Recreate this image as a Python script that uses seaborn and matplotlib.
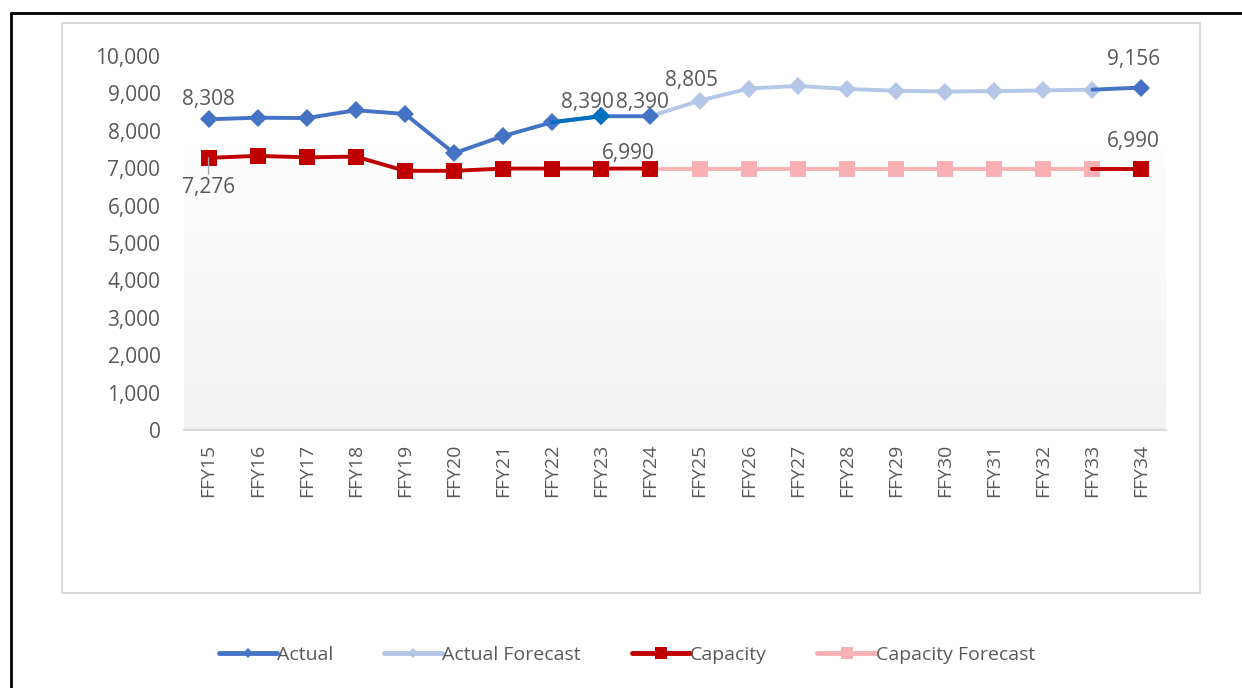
import numpy as np
import pandas as pd
import matplotlib
matplotlib.use("Agg")
import matplotlib.pyplot as plt
import seaborn as sns
from matplotlib.lines import Line2D
from matplotlib.patches import Rectangle

# Data
years = [f"FFY{y}" for y in range(15, 35)]
actual = [8308, 8350, 8340, 8550, 8450, 7400, 7860, 8230, 8390, 8390]
actual_tail = [9100, 9156]            # FFY33-FFY34
actual_forecast = [8390, 8805, 9130, 9200, 9120, 9070, 9050, 9060, 9080, 9100]  # FFY24-FFY33
capacity = [7276, 7330, 7290, 7310, 6930, 6930, 6990, 6990, 6990, 6990]
capacity_tail = [6990, 6990]          # FFY33-FFY34
capacity_forecast = [6990] * 10       # FFY24-FFY33
highlight = [8230, 8390]              # FFY22-FFY23

BLUE = "#4472C4"
BLUE_LT = "#B4C7E7"
BLUE_HL = "#0070C0"
RED = "#C00000"
RED_LT = "#F7B0B3"
GRAY_TXT = "#595959"

sns.set_style("white")
plt.rcParams["font.family"] = ["Open Sans", "DejaVu Sans"]

fig = plt.figure(figsize=(12.42, 6.88), dpi=100)

# outer frame (black, left and top only) and inner chart box
fig.add_artist(Line2D([11 / 1242, 11 / 1242], [0, 1 - 13 / 688], color="black", lw=2))
fig.add_artist(Line2D([11 / 1242, 1], [1 - 13 / 688, 1 - 13 / 688], color="black", lw=2))
fig.add_artist(Rectangle((62 / 1242, 1 - 593 / 688), 1138 / 1242, 570 / 688,
                         transform=fig.transFigure, fill=False, ec="#d9d9d9", lw=1.5))

ax = fig.add_axes([184 / 1242, 1 - 430 / 688, 982 / 1242, 374 / 688])

n = len(years)
idx = np.arange(n)

# gradient fill of the plot area
grad = np.linspace(241, 254, 256).reshape(-1, 1) / 255.0
ax.imshow(np.dstack([grad, grad, grad]), extent=[-0.5, n - 0.5, 0, 7620],
          aspect="auto", origin="lower", zorder=0, interpolation="bilinear")


def seg(start, vals):
    return pd.DataFrame({"x": idx[start:start + len(vals)], "y": vals})


line_kw = dict(legend=False, linewidth=2.8)
diamond = dict(marker="D", markersize=9.5, markeredgewidth=0)
square = dict(marker="s", markersize=12, markeredgewidth=0)

sns.lineplot(data=seg(9, capacity_forecast), x="x", y="y", ax=ax, color=RED_LT,
             markevery=list(range(1, 10)), zorder=3, **square, **line_kw)
sns.lineplot(data=seg(0, capacity), x="x", y="y", ax=ax, color=RED, zorder=4, **square, **line_kw)
sns.lineplot(data=seg(18, capacity_tail), x="x", y="y", ax=ax, color=RED,
             markevery=[1], zorder=4, **square, **line_kw)

sns.lineplot(data=seg(9, actual_forecast), x="x", y="y", ax=ax, color=BLUE_LT,
             markevery=list(range(1, 10)), zorder=5, **diamond, **line_kw)
sns.lineplot(data=seg(0, actual), x="x", y="y", ax=ax, color=BLUE, zorder=6, **diamond, **line_kw)
sns.lineplot(data=seg(7, highlight), x="x", y="y", ax=ax, color=BLUE_HL,
             markevery=[1], zorder=7, **diamond, **line_kw)
sns.lineplot(data=seg(18, actual_tail), x="x", y="y", ax=ax, color=BLUE,
             markevery=[1], zorder=6, **diamond, **line_kw)

# data labels
lab_fs = 15
def label(i, v, dx=0, dy=0):
    ax.annotate(f"{v:,}", (i, v), xytext=(dx, dy), textcoords="offset points",
                ha="center", va="bottom", fontsize=lab_fs, color=GRAY_TXT, zorder=8)

label(0, actual[0], 0, 7)
label(8, actual[8], -10, 2)
label(9, actual[9], -6, 2)
label(10, actual_forecast[1], -6, 7)
label(19, actual_tail[1], -6, 13)
label(9, capacity[9], -16, 3)
label(19, capacity_tail[1], -6, 12)
ax.annotate(f"{capacity[0]:,}", (0, capacity[0]), xytext=(0, -14), textcoords="offset points",
            ha="center", va="top", fontsize=lab_fs, color=GRAY_TXT, zorder=8,
            arrowprops=dict(arrowstyle="-", color="#a6a6a6", lw=1, shrinkA=0, shrinkB=0))

ax.set_xlim(-0.5, n - 0.5)
ax.set_ylim(0, 10000)
ax.set_xticks(idx)
ax.set_xticklabels(years, rotation=90, fontsize=14, color=GRAY_TXT)
ax.set_yticks(range(0, 10001, 1000))
ax.set_yticklabels([f"{v:,}" for v in range(0, 10001, 1000)], fontsize=15, color=GRAY_TXT)
ax.tick_params(axis="both", length=0)
ax.tick_params(axis="x", pad=10)
ax.tick_params(axis="y", pad=17)
ax.set_xlabel("")
ax.set_ylabel("")
for side in ["top", "right", "left"]:
    ax.spines[side].set_visible(False)
ax.spines["bottom"].set_color("#d9d9d9")
ax.spines["bottom"].set_linewidth(1.5)
ax.set_facecolor("white")

handles = [
    Line2D([], [], color=BLUE, lw=3.5, marker="D", markersize=5, markeredgewidth=0),
    Line2D([], [], color=BLUE_LT, lw=3.5, marker="D", markersize=5, markeredgewidth=0),
    Line2D([], [], color=RED, lw=3.5, marker="s", markersize=9, markeredgewidth=0),
    Line2D([], [], color=RED_LT, lw=3.5, marker="s", markersize=9, markeredgewidth=0),
]
fig.legend(handles, ["Actual", "Actual Forecast", "Capacity", "Capacity Forecast"],
           loc="center", bbox_to_anchor=(627 / 1242, 1 - 655 / 688), ncol=4, frameon=False,
           fontsize=14, labelcolor=GRAY_TXT, handlelength=3.0, handletextpad=0.0,
           columnspacing=2.6)

fig.savefig("out.png", dpi=100)
